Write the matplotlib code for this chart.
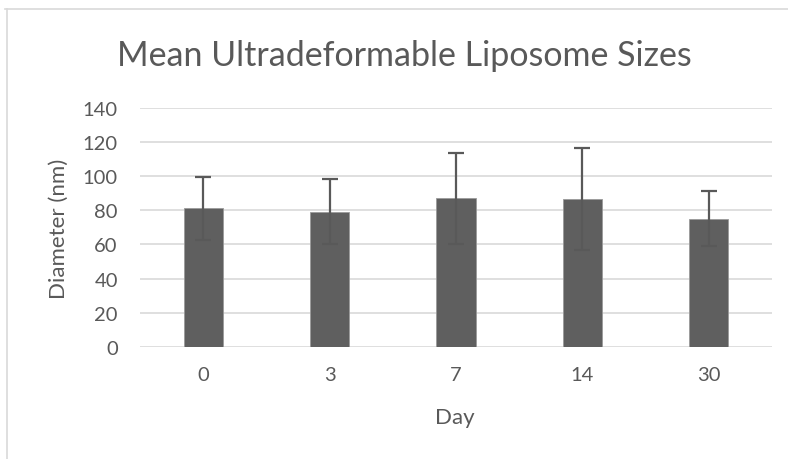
import matplotlib
matplotlib.use("Agg")
import matplotlib.pyplot as plt
from matplotlib.lines import Line2D

# data
days = ["0", "3", "7", "14", "30"]
mean_size = [81, 79, 87, 86.5, 75]
err = [18.5, 19, 26.5, 30, 16]

plt.rcParams['font.family'] = ['Lato', 'DejaVu Sans']
txt = "#595959"

fig = plt.figure(figsize=(7.88, 4.6), dpi=100)
W, H = 788, 460
ax = fig.add_axes([140 / W, 1 - 348 / H, 632 / W, (348 - 108.6) / H])

x = range(len(days))
ax.bar(x, mean_size, width=0.31, color="#5f5f5f", edgecolor="#9a9a9a", linewidth=0.6, zorder=3)
ax.errorbar(x, mean_size, yerr=err, fmt="none", ecolor="#595959", elinewidth=1.6,
            capsize=6, capthick=1.6, zorder=4)

ax.set_ylim(0, 140)
ax.set_xlim(-0.5, len(days) - 0.5)
ax.set_yticks(range(0, 141, 20))
ax.set_xticks(list(x))
ax.set_xticklabels(days)
ax.grid(axis="y", color="#d9d9d9", linewidth=1.2, zorder=0)
for s in ax.spines.values():
    s.set_visible(False)
ax.tick_params(length=0, labelsize=14.5, colors=txt)
ax.tick_params(axis="x", pad=14)
ax.tick_params(axis="y", pad=16)

fig.text(455 / W, 1 - 418 / H, "Day", fontsize=16, color=txt, ha="center", va="center")
fig.text(59 / W, 1 - 229 / H, "Diameter (nm)", fontsize=16, color=txt,
         ha="center", va="center", rotation=90)
fig.text(404 / W, 1 - 66 / H, "Mean Ultradeformable Liposome Sizes", fontsize=24.5,
         color=txt, ha="center", va="baseline")

# light chart border (top and left visible)
fig.add_artist(Line2D([5 / W, 1], [1 - 10 / H, 1 - 10 / H], color="#d9d9d9", lw=1.2))
fig.add_artist(Line2D([7 / W, 7 / W], [0, 1 - 10 / H], color="#d9d9d9", lw=1.2))

fig.savefig("out.png", dpi=100)
